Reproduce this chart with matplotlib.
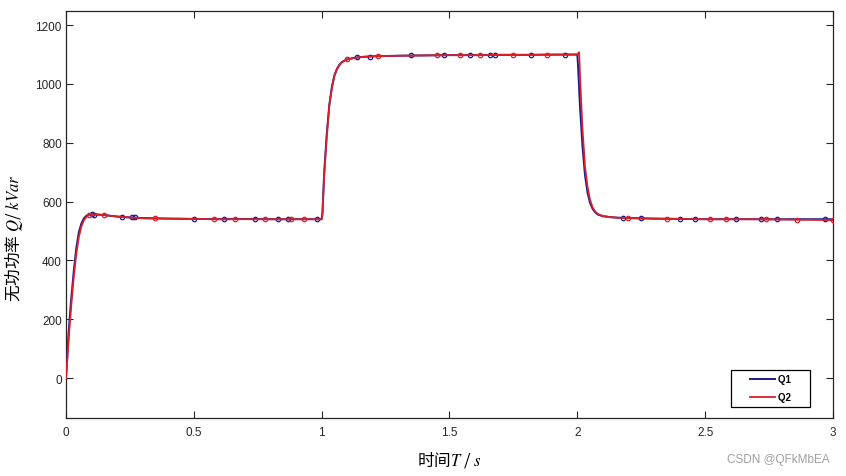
import numpy as np
import matplotlib
matplotlib.use("Agg")
import matplotlib.pyplot as plt
from matplotlib.ticker import MultipleLocator
from matplotlib.legend_handler import HandlerLine2D

plt.rcParams["font.family"] = ["Liberation Sans", "Noto Sans CJK SC", "DejaVu Sans"]
plt.rcParams["mathtext.fontset"] = "stix"

# =========================
# Data
# =========================
t_q1 = [0, 0.005, 0.01, 0.015, 0.02, 0.03, 0.04, 0.05, 0.06, 0.07, 0.08, 0.09, 0.1,
        0.12, 0.15, 0.2, 0.25, 0.3, 0.4, 0.5, 0.6, 0.7, 0.8, 0.9, 1.0,
        1.003, 1.01, 1.02, 1.03, 1.04, 1.05, 1.06, 1.07, 1.08, 1.1, 1.13, 1.16, 1.2,
        1.3, 1.4, 1.5, 1.6, 1.7, 1.8, 1.9, 2.0,
        2.003, 2.01, 2.02, 2.03, 2.04, 2.05, 2.06, 2.07, 2.08, 2.1, 2.13, 2.16, 2.2,
        2.3, 2.4, 2.5, 2.6, 2.7, 2.8, 2.9, 3.0]
q1 = [0, 75, 150, 210, 265, 360, 440, 495, 525, 543, 552, 556, 557,
      556, 554, 549, 546, 544, 542, 541, 540, 541, 540, 540, 540,
      560, 700, 830, 930, 990, 1030, 1052, 1066, 1075, 1084, 1089, 1092, 1094,
      1096, 1097, 1098, 1098, 1099, 1099, 1100, 1100,
      1060, 930, 790, 690, 630, 595, 575, 563, 556, 550, 547, 545, 544,
      542, 541, 540, 540, 540, 540, 540, 540]

t_q2 = [0, 0.005, 0.01, 0.015, 0.02, 0.03, 0.04, 0.05, 0.06, 0.07, 0.08, 0.09, 0.1,
        0.12, 0.15, 0.2, 0.25, 0.3, 0.4, 0.5, 0.6, 0.7, 0.8, 0.9, 1.0,
        1.003, 1.01, 1.02, 1.03, 1.04, 1.05, 1.06, 1.07, 1.08, 1.1, 1.13, 1.16, 1.2,
        1.3, 1.4, 1.5, 1.6, 1.7, 1.8, 1.9, 2.0,
        2.007, 2.012, 2.02, 2.03, 2.04, 2.05, 2.06, 2.07, 2.08, 2.1, 2.13, 2.16, 2.2,
        2.3, 2.4, 2.5, 2.6, 2.7, 2.8, 2.9, 3.0]
q2 = [0, 60, 125, 185, 240, 340, 420, 478, 515, 536, 548, 554, 556,
      556, 554, 549, 546, 543, 542, 541, 540, 540, 540, 540, 540,
      555, 690, 820, 925, 985, 1027, 1050, 1064, 1074, 1083, 1089, 1092, 1094,
      1096, 1097, 1098, 1098, 1099, 1099, 1099, 1100,
      1108, 1000, 850, 720, 650, 605, 580, 566, 558, 551, 547, 545, 544,
      542, 541, 540, 540, 540, 539, 538, 537]

# scattered hollow markers along each curve
mark_t_q1 = [0.1, 0.11, 0.22, 0.26, 0.27, 0.5, 0.62, 0.74, 0.83, 0.87, 0.98,
             1.14, 1.19, 1.35, 1.48, 1.58, 1.66, 1.68, 1.82, 1.95,
             2.18, 2.25, 2.4, 2.46, 2.62, 2.72, 2.78, 2.97]
mark_v_q1 = [557, 556, 549, 547, 547, 541, 541, 541, 540, 541, 540,
             1090, 1093, 1097, 1098, 1098, 1099, 1099, 1099, 1100,
             545, 543, 542, 541, 541, 540, 541, 541]
mark_t_q2 = [0.09, 0.15, 0.35, 0.58, 0.66, 0.78, 0.88, 0.93,
             1.1, 1.22, 1.45, 1.54, 1.62, 1.75, 1.88,
             2.2, 2.35, 2.52, 2.58, 2.74, 2.86, 3.0]
mark_v_q2 = [556, 554, 543, 541, 540, 540, 540, 540,
             1084, 1094, 1097, 1098, 1098, 1099, 1099,
             544, 542, 541, 541, 540, 539, 537]

BLUE = "#1a1a8c"
RED = "#d9202a"
AXC = "#262626"

# =========================
# Plot
# =========================
fig = plt.figure(figsize=(8.46, 4.77), dpi=100)
ax = fig.add_axes([0.078, 0.1216, 0.9066, 0.8532])

ln1, = ax.plot(t_q1, q1, color=BLUE, lw=1.4, label="Q1", zorder=3)
ax.plot(mark_t_q1, mark_v_q1, ls="none", marker="o", ms=3.2, mfc="none",
        mec=BLUE, mew=0.9, zorder=3)
ln2, = ax.plot(t_q2, q2, color=RED, lw=1.3, label="Q2", zorder=4)
ax.plot(mark_t_q2, mark_v_q2, ls="none", marker="o", ms=3.2, mfc="none",
        mec=RED, mew=0.9, zorder=4)

ax.set_xlim(0, 3)
ax.set_ylim(-136, 1248)
ax.xaxis.set_major_locator(MultipleLocator(0.5))
ax.yaxis.set_major_locator(MultipleLocator(200))
ax.xaxis.set_major_formatter(plt.FuncFormatter(lambda v, p: f"{v:g}"))

ax.tick_params(direction="in", length=5, width=0.8, top=True, right=True,
               labelsize=8.5, colors=AXC)
ax.tick_params(axis="x", pad=6)
ax.tick_params(axis="y", pad=3)
for sp in ax.spines.values():
    sp.set_color(AXC)
    sp.set_linewidth(0.9)

ax.set_ylabel("无功功率 $Q$/ $kVar$", fontsize=12,
              family=["Noto Sans CJK SC", "DejaVu Sans"])
ax.yaxis.set_label_coords(-0.053, 0.445)
ax.set_xlabel("时间$T$ / $s$", fontsize=12,
              family=["Noto Sans CJK SC", "DejaVu Sans"], labelpad=8)

hmap = {ln1: HandlerLine2D(xpad=1.5), ln2: HandlerLine2D(xpad=1.5)}
leg = ax.legend(handles=[ln1, ln2], labels=["Q1     ", "Q2     "],
                handler_map=hmap, loc="lower right",
                bbox_to_anchor=(0.970, 0.027), borderaxespad=0,
                fancybox=False, edgecolor="black", framealpha=1,
                handlelength=4.1, prop={"size": 7, "weight": "bold"},
                borderpad=0.5, labelspacing=0.8, handletextpad=0.3)
leg.get_frame().set_linewidth(0.9)

fig.text(0.981, 0.035, "CSDN @QFkMbEA", ha="right", va="center",
         fontsize=8.5, color="#a0a0a0")

fig.savefig("out.png", dpi=100)
